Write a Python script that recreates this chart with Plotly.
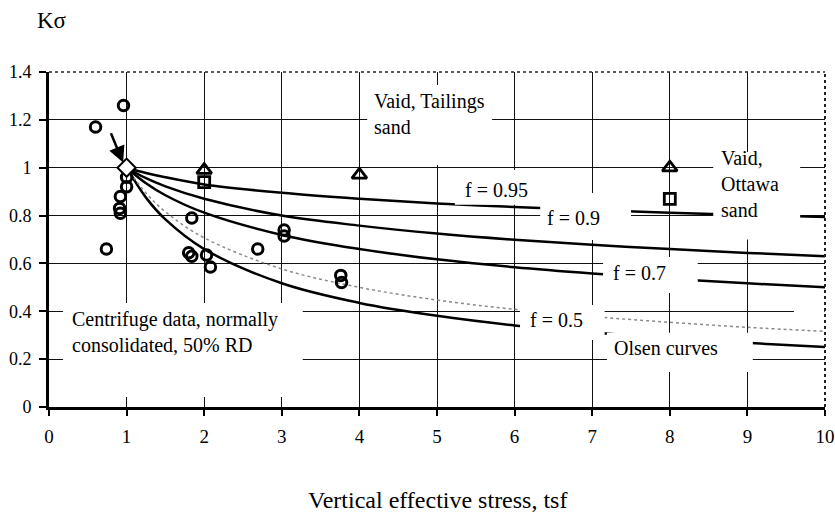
import plotly.graph_objects as go

# ---------------- data ----------------
# Centrifuge data (open circles)
circle_x = [0.60, 0.96, 1.00, 1.00, 0.92, 0.91, 0.92, 0.74, 1.84, 1.80, 1.84, 2.03, 2.08, 2.69, 3.03, 3.03, 3.76, 3.77]
circle_y = [1.17, 1.26, 0.96, 0.92, 0.88, 0.83, 0.81, 0.66, 0.79, 0.645, 0.63, 0.635, 0.585, 0.66, 0.74, 0.715, 0.55, 0.52]

# Vaid data
tri_x = [2, 4, 8]
tri_y = [0.99, 0.97, 1.0]
sq_x = [2, 8]
sq_y = [0.94, 0.87]

# reference point
ref_x = [1]
ref_y = [1]

# Olsen curves (values read at these stresses)
curve_x = [1, 1.25, 1.5, 2, 3, 4, 5, 6, 7, 8, 9, 10]
f090_y = [1, 0.978, 0.96, 0.93, 0.895, 0.87, 0.85, 0.836, 0.823, 0.812, 0.803, 0.794]
f080_y = [1, 0.956, 0.922, 0.87, 0.80, 0.758, 0.725, 0.699, 0.678, 0.66, 0.644, 0.63]
f070_y = [1, 0.935, 0.885, 0.812, 0.719, 0.66, 0.617, 0.584, 0.558, 0.536, 0.517, 0.50]
f050_y = [1, 0.894, 0.816, 0.707, 0.577, 0.50, 0.447, 0.408, 0.378, 0.354, 0.333, 0.316]
f040_y = [1, 0.875, 0.784, 0.66, 0.517, 0.435, 0.381, 0.341, 0.311, 0.287, 0.268, 0.251]

x_ticks = [0, 1, 2, 3, 4, 5, 6, 7, 8, 9, 10]
y_ticks = [0, 0.2, 0.4, 0.6, 0.8, 1.0, 1.2, 1.4]
y_tick_text = ["0", "0.2", "0.4", "0.6", "0.8", "1", "1.2", "1.4"]

FONT = "Liberation Serif, Times New Roman, serif"
CLEAR = "rgba(0,0,0,0)"

fig = go.Figure()

for ys in [f090_y, f080_y, f070_y, f040_y]:
    fig.add_trace(go.Scatter(x=curve_x, y=ys, mode="lines", line=dict(color="black", width=2.5, shape="spline"),
                             showlegend=False, hoverinfo="skip"))
fig.add_trace(go.Scatter(x=curve_x, y=f050_y, mode="lines",
                         line=dict(color="#8a8a8a", width=1.5, dash="dot", shape="spline"),
                         showlegend=False, hoverinfo="skip"))

fig.add_trace(go.Scatter(x=circle_x, y=circle_y, mode="markers",
                         marker=dict(symbol="circle", size=10.5, color=CLEAR, line=dict(width=3, color="black")),
                         showlegend=False))
fig.add_trace(go.Scatter(x=tri_x, y=tri_y, mode="markers",
                         marker=dict(symbol="triangle-up", size=13, color=CLEAR, line=dict(width=2.8, color="black")),
                         showlegend=False))
fig.add_trace(go.Scatter(x=sq_x, y=sq_y, mode="markers",
                         marker=dict(symbol="square", size=11, color=CLEAR, line=dict(width=2.8, color="black")),
                         showlegend=False))
fig.add_trace(go.Scatter(x=ref_x, y=ref_y, mode="markers",
                         marker=dict(symbol="diamond", size=14, color="white", line=dict(width=2, color="black")),
                         showlegend=False))

# white label boxes that hide grid and curves (x0, x1, y0, y1)
masks = [
    (4.10, 5.71, 1.011, 1.346),   # Vaid, Tailings sand
    (8.56, 9.68, 0.70, 1.066),    # Vaid, Ottawa sand
    (5.23, 6.20, 0.845, 0.99),    # f = 0.95
    (6.33, 7.50, 0.698, 0.894),   # f = 0.9
    (7.14, 8.36, 0.476, 0.627),   # f = 0.7
    (6.07, 7.16, 0.28, 0.426),    # f = 0.5
    (7.19, 9.07, 0.146, 0.31),    # Olsen curves
    (0.18, 3.27, 0.042, 0.435),   # Centrifuge data
    (9.60, 9.99, 0.385, 0.415),
]
shapes = []
for x0, x1, y0, y1 in masks:
    shapes.append(dict(type="rect", xref="x", yref="y", x0=x0, x1=x1, y0=y0, y1=y1,
                       fillcolor="white", line=dict(width=0), layer="above"))
shapes.append(dict(type="line", xref="paper", yref="paper", x0=0, x1=1, y0=1, y1=1,
                   line=dict(color="#222", width=1.5, dash="dot"), layer="above"))
shapes.append(dict(type="line", xref="paper", yref="paper", x0=1, x1=1, y0=0, y1=1,
                   line=dict(color="#222", width=2, dash="dot"), layer="above"))

ann = []
def txt(x, y, s, size=20):
    ann.append(dict(x=x, y=y, xref="x", yref="y", text=s, showarrow=False, xanchor="left",
                    yanchor="middle", align="left", font=dict(family=FONT, size=size, color="black")))

txt(4.16, 1.226, "Vaid, Tailings<br>sand")
txt(8.63, 0.932, "Vaid,<br>Ottawa<br>sand")
txt(5.34, 0.907, "f = 0.95")
txt(6.39, 0.788, "f = 0.9")
txt(7.24, 0.558, "f = 0.7")
txt(6.17, 0.364, "f = 0.5")
txt(7.25, 0.247, "Olsen curves")
txt(0.27, 0.315, "Centrifuge data, normally<br>consolidated, 50% RD")

ann.append(dict(x=0.97, y=1.01, xref="x", yref="y", ax=0.79, ay=1.15, axref="x", ayref="y",
                text="", showarrow=True, arrowhead=2, arrowsize=1.3, arrowwidth=2.5, arrowcolor="black",
                standoff=3))
ann.append(dict(x=-0.018, y=1.155, xref="paper", yref="paper", text="Kσ", showarrow=False,
                xanchor="left", yanchor="middle", font=dict(family=FONT, size=23, color="black")))
ann.append(dict(x=0.5, y=-0.277, xref="paper", yref="paper", text="Vertical effective stress, tsf",
                showarrow=False, xanchor="center", yanchor="middle",
                font=dict(family=FONT, size=24, color="black")))

fig.update_layout(
    width=835, height=519,
    margin=dict(l=49, r=10, t=72, b=112, autoexpand=False),
    paper_bgcolor="white", plot_bgcolor="white",
    shapes=shapes, annotations=ann, showlegend=False,
)
fig.update_xaxes(range=[0, 10], tickvals=x_ticks, showgrid=True, gridcolor="#111", gridwidth=1,
                 showline=True, linecolor="black", linewidth=3, ticks="outside", ticklen=6,
                 tickwidth=1.5, tickcolor="black", zeroline=False, ticklabelstandoff=4,
                 automargin=False, ticklabeloverflow="allow",
                 tickfont=dict(family=FONT, size=19, color="black"))
fig.update_yaxes(range=[0, 1.4], tickvals=y_ticks, ticktext=y_tick_text, showgrid=True,
                 gridcolor="#111", gridwidth=1, showline=True, linecolor="black", linewidth=3,
                 ticks="outside", ticklen=7, tickwidth=1.5, tickcolor="black", zeroline=False,
                 ticklabelstandoff=4, automargin=False,
                 tickfont=dict(family=FONT, size=18, color="black"))

# remove the default 8 px page margin so the figure fills the window exactly
fig.write_html("out.html", config={"displayModeBar": False},
               post_script="document.body.style.margin='0';document.body.style.overflow='hidden';")
